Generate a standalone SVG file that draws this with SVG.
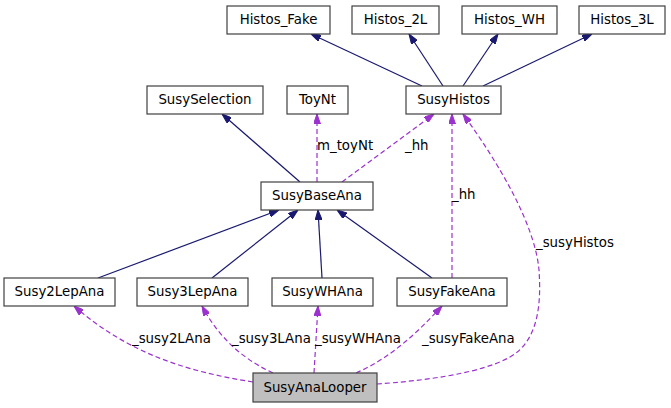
<svg xmlns="http://www.w3.org/2000/svg" width="671" height="408" viewBox="0 0 671 408">
<style>
.n rect{fill:#fff;stroke:#404040;stroke-width:1.2}
.n text{font-family:"DejaVu Sans",sans-serif;font-size:13.33px;text-anchor:middle;fill:#000}
.inh{fill:none;stroke:#191970;stroke-width:1.2;marker-end:url(#ah)}
.use{fill:none;stroke:#9a32cd;stroke-width:1.2;stroke-dasharray:5,3;marker-end:url(#ap)}
.lbl{font-family:"DejaVu Sans",sans-serif;font-size:13.33px;fill:#000}
</style>
<defs>
<marker id="ah" viewBox="0 0 10 7" refX="10" refY="3.5" markerWidth="10" markerHeight="7" markerUnits="userSpaceOnUse" orient="auto">
<path d="M0,0 L10,3.5 L0,7 z" fill="#191970" stroke="#191970" stroke-width="1"/>
</marker>
<marker id="ap" viewBox="0 0 10 7" refX="10" refY="3.5" markerWidth="10" markerHeight="7" markerUnits="userSpaceOnUse" orient="auto">
<path d="M0,0 L10,3.5 L0,7 z" fill="#9a32cd" stroke="#9a32cd" stroke-width="1"/>
</marker>
</defs>
<g id="edges">
<path class="inh" d="M422,86 L311,34"/>
<path class="inh" d="M443,86 L409,34"/>
<path class="inh" d="M463,86 L498,34"/>
<path class="inh" d="M483,86 L592,34"/>
<path class="inh" d="M300,182 L222,114"/>
<path class="inh" d="M98,278 L279,210"/>
<path class="inh" d="M212,278 L298,210"/>
<path class="inh" d="M322,278 L318,210"/>
<path class="inh" d="M432,278 L337,210"/>
<path class="use" d="M317,182 L317,114"/>
<path class="use" d="M342,182 L434,114"/>
<path class="use" d="M452,278 L452,114"/>
<path class="use" d="M377,384 C420,381 480,374 510,357 C540,340 541,300 539,270 C535,225 500,165 463,114"/>
<path class="use" d="M253,382 C190,372 130,355 74,306"/>
<path class="use" d="M273,373 C245,360 220,340 202,306"/>
<path class="use" d="M314,373 L318,306"/>
<path class="use" d="M356,373 C390,358 415,335 442,306"/>
<text class="lbl" x="317" y="150">m_toyNt</text>
<text class="lbl" x="405" y="150">_hh</text>
<text class="lbl" x="452" y="199">_hh</text>
<text class="lbl" x="536" y="247">_susyHistos</text>
<text class="lbl" x="132" y="343">_susy2LAna</text>
<text class="lbl" x="232" y="343">_susy3LAna</text>
<text class="lbl" x="315" y="343">_susyWHAna</text>
<text class="lbl" x="422" y="343">_susyFakeAna</text>
</g>
<g id="Histos_Fake" class="n"><rect x="227" y="6" width="103" height="28"/><text x="278.5" y="24">Histos_Fake</text></g>
<g id="Histos_2L" class="n"><rect x="352" y="6" width="87" height="28"/><text x="395.5" y="24">Histos_2L</text></g>
<g id="Histos_WH" class="n"><rect x="462" y="6" width="95" height="28"/><text x="509.5" y="24">Histos_WH</text></g>
<g id="Histos_3L" class="n"><rect x="579" y="6" width="86" height="28"/><text x="622" y="24">Histos_3L</text></g>
<g id="SusySelection" class="n"><rect x="147" y="86" width="116" height="28"/><text x="205" y="104">SusySelection</text></g>
<g id="ToyNt" class="n"><rect x="287" y="86" width="61" height="28"/><text x="317.5" y="104">ToyNt</text></g>
<g id="SusyHistos" class="n"><rect x="406" y="86" width="95" height="28"/><text x="453.5" y="104">SusyHistos</text></g>
<g id="SusyBaseAna" class="n"><rect x="261" y="182" width="112" height="28"/><text x="317" y="200">SusyBaseAna</text></g>
<g id="Susy2LepAna" class="n"><rect x="4" y="278" width="111" height="28"/><text x="59.5" y="296">Susy2LepAna</text></g>
<g id="Susy3LepAna" class="n"><rect x="137" y="278" width="111" height="28"/><text x="192.5" y="296">Susy3LepAna</text></g>
<g id="SusyWHAna" class="n"><rect x="272" y="278" width="101" height="28"/><text x="322.5" y="296">SusyWHAna</text></g>
<g id="SusyFakeAna" class="n"><rect x="397" y="278" width="110" height="28"/><text x="452" y="296">SusyFakeAna</text></g>
<g id="SusyAnaLooper" class="n"><rect x="253" y="373" width="124" height="29" style="fill:#bfbfbf"/><text x="315" y="392">SusyAnaLooper</text></g>
</svg>
